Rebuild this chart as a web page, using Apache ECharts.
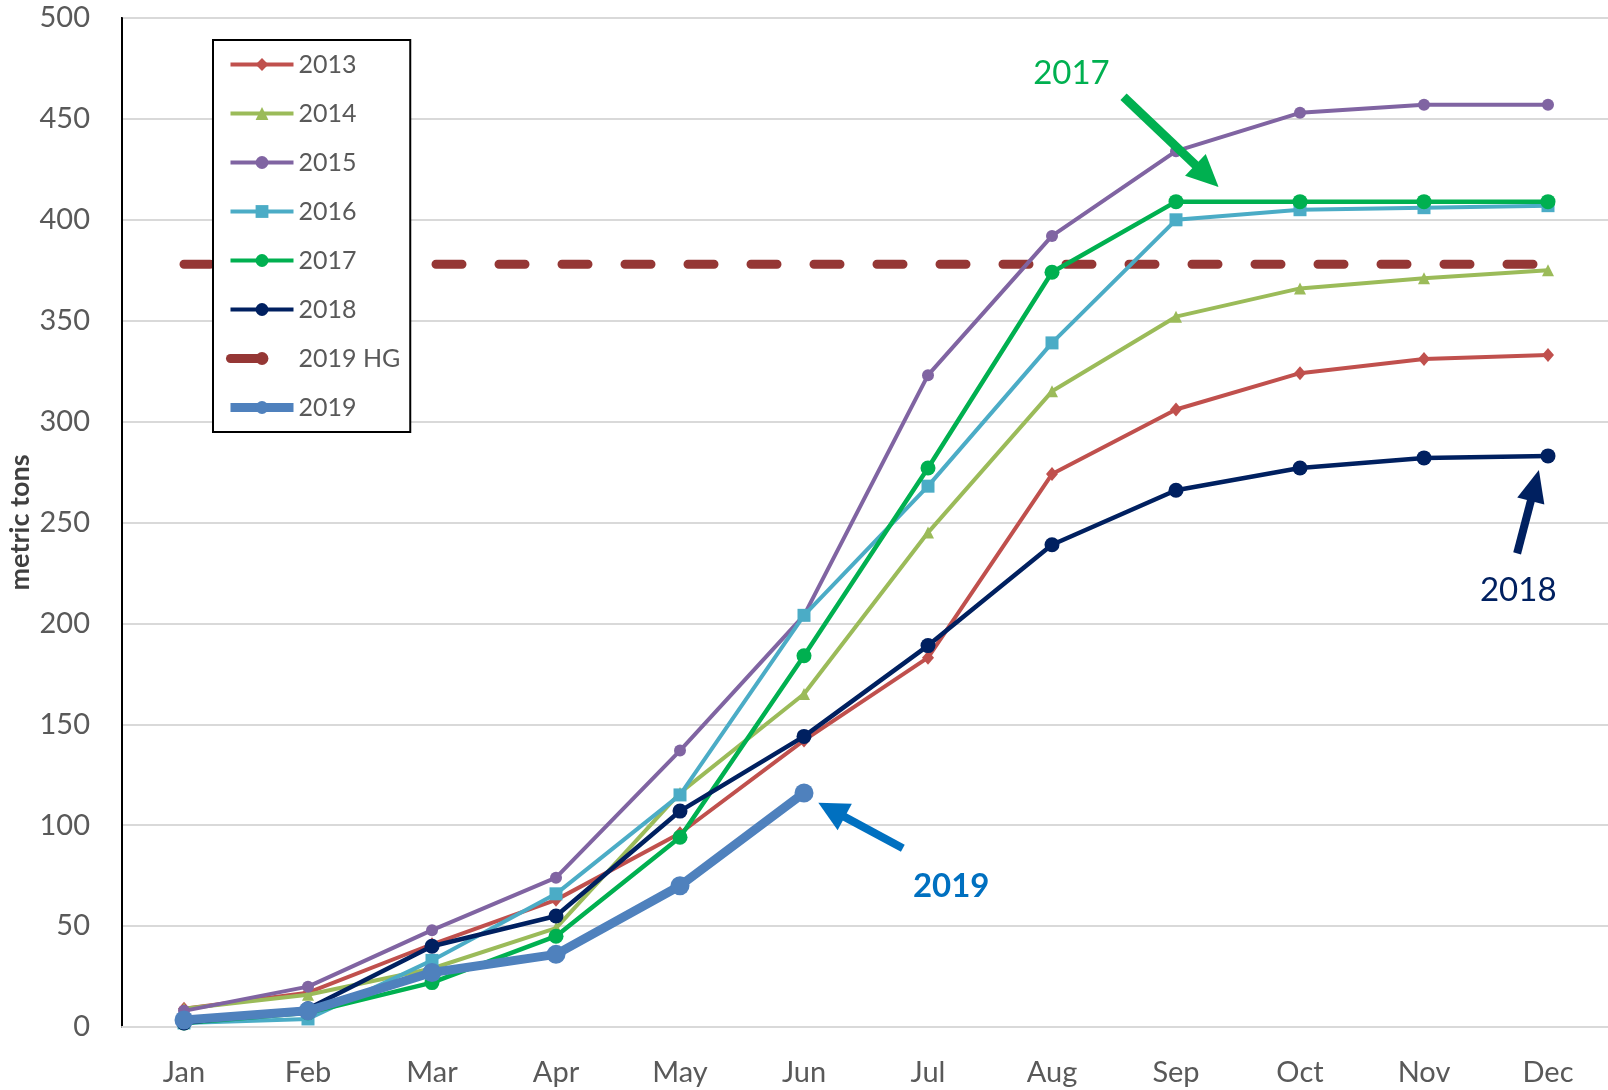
<!DOCTYPE html>
<html>
<head>
<meta charset="utf-8">
<script src="https://cdn.jsdelivr.net/npm/echarts@6/dist/echarts.min.js"></script>
<style>
html, body { margin: 0; padding: 0; background: #fff; }
#chart { width: 1608px; height: 1090px; }
</style>
</head>
<body>
<div id="chart"></div>
<script>
// ---- data ----
var months = ['Jan', 'Feb', 'Mar', 'Apr', 'May', 'Jun', 'Jul', 'Aug', 'Sep', 'Oct', 'Nov', 'Dec'];
var s2013 = [9, 17, 41, 63, 96, 142, 183, 274, 306, 324, 331, 333];
var s2014 = [9, 16, 29, 49, 116, 165, 245, 315, 352, 366, 371, 375];
var s2015 = [8, 20, 48, 74, 137, 204, 323, 392, 434, 453, 457, 457];
var s2016 = [2, 4, 33, 66, 115, 204, 268, 339, 400, 405, 406, 407];
var s2017 = [2, 7, 22, 45, 94, 184, 277, 374, 409, 409, 409, 409];
var s2018 = [2, 9, 40, 55, 107, 144, 189, 239, 266, 277, 282, 283];
var hg2019 = [378, 378, 378, 378, 378, 378, 378, 378, 378, 378, 378, 378];
var s2019 = [3.5, 8, 27, 36, 70, 116];
var yTicks = { min: 0, max: 500, interval: 50 };

// annotation anchors in data units (x = month index, y = metric tons)
var ann2017 = { text: '2017', label: [7.157, 472.5], from: [7.577, 461.0], to: [8.25, 421.7] };
var ann2019 = { text: '2019', label: [6.187, 69.7], from: [5.797, 88.6], to: [5.222, 107.6] };
var ann2018 = { text: '2018', label: [10.76, 216.5], from: [10.751, 234.7], to: [10.894, 268.3] };

var FONT = 'Lato';

function lineSeries(name, data, color, symbol, symbolSize, width, z) {
  return {
    name: name, type: 'line', data: data,
    symbol: symbol, symbolSize: symbolSize, showSymbol: symbol !== 'none',
    lineStyle: { color: color, width: width },
    itemStyle: { color: color },
    z: z, animation: false, silent: true
  };
}

function annSeries(a, color, bold, lw, head) {
  return {
    type: 'line', xAxisIndex: 1, yAxisIndex: 0, data: [], silent: true, animation: false,
    markLine: {
      silent: true, animation: false,
      symbol: ['none', 'triangle'], symbolSize: head,
      lineStyle: { color: color, width: lw, type: 'solid' },
      itemStyle: { color: color },
      label: { show: false },
      emphasis: { disabled: true },
      data: [[{ coord: a.from }, { coord: a.to }]]
    },
    markPoint: {
      silent: true, animation: false,
      symbol: 'circle', symbolSize: 1,
      itemStyle: { color: 'rgba(0,0,0,0)' },
      label: {
        show: true, position: 'inside', formatter: a.text,
        color: color, fontFamily: FONT, fontSize: 33, fontWeight: bold ? 'bold' : 'normal'
      },
      data: [{ coord: a.label }]
    },
    z: 10
  };
}

var chart = echarts.init(document.getElementById('chart'), null, { renderer: 'canvas' });
chart.setOption({
  backgroundColor: '#ffffff',
  animation: false,
  grid: {
    left: 122, right: -2, top: 18, bottom: 63, containLabel: false, outerBoundsMode: 'none',
    show: true, borderColor: '#000', borderWidth: 2, backgroundColor: 'transparent'
  },
  legend: {
    orient: 'vertical', left: 213, top: 40,
    data: [
      { name: '2013' },
      { name: '2014' },
      { name: '2015' },
      { name: '2016' },
      { name: '2017' },
      { name: '2018' },
      { name: '2019 HG', lineStyle: { width: 9, type: [27, 200], cap: 'round' } },
      { name: '2019', lineStyle: { width: 9 } }
    ],
    backgroundColor: '#fff', borderColor: '#000', borderWidth: 2,
    padding: [10, 10, 10, 13],
    itemWidth: 63, itemHeight: 16, itemGap: 20, itemTextGap: 4,
    lineStyle: { width: 4 },
    textStyle: { fontFamily: FONT, fontSize: 25, color: '#595959', lineHeight: 29 },
    selectedMode: false
  },
  xAxis: [{
    type: 'category', data: months, boundaryGap: true,
    axisLine: { show: true, lineStyle: { color: '#D9D9D9', width: 2 } },
    axisTick: { show: false },
    axisLabel: { fontFamily: FONT, fontSize: 29, color: '#595959', margin: 31 },
    splitLine: { show: false }
  }, {
    type: 'value', min: -0.5, max: 11.5, show: false
  }],
  yAxis: [{
    type: 'value', min: yTicks.min, max: yTicks.max, interval: yTicks.interval,
    name: 'metric tons', nameLocation: 'middle', nameGap: 102, nameRotate: 90, nameMoveOverlap: false,
    nameTextStyle: { fontFamily: FONT, fontSize: 27, fontWeight: 'bold', color: '#404040', verticalAlign: 'middle' },
    axisLine: { show: true, onZero: false, lineStyle: { color: '#000', width: 2 } },
    axisTick: { show: false },
    axisLabel: { fontFamily: FONT, fontSize: 29, color: '#595959', margin: 32 },
    splitLine: { show: true, lineStyle: { color: '#D9D9D9', width: 2 } }
  }],
  series: [
    lineSeries('2013', s2013, '#C0504D', 'diamond', [12, 14], 4, 2),
    lineSeries('2014', s2014, '#9BBB59', 'triangle', 12, 4, 3),
    lineSeries('2015', s2015, '#8064A2', 'circle', 12, 4, 4),
    lineSeries('2016', s2016, '#4BACC6', 'rect', 13, 4, 5),
    lineSeries('2017', s2017, '#00B050', 'circle', 15, 4.5, 6),
    lineSeries('2018', s2018, '#002060', 'circle', 15, 4.5, 7),
    {
      name: '2019 HG', type: 'line', data: hg2019, symbol: 'none', showSymbol: false,
      lineStyle: { color: '#953735', width: 9, type: [26, 37], cap: 'round' },
      itemStyle: { color: '#953735' }, z: 1, silent: true, animation: false
    },
    lineSeries('2019', s2019, '#4F81BD', 'circle', 19, 9, 8),
    annSeries(ann2017, '#00B050', false, 9, [30, 32]),
    annSeries(ann2019, '#0070C0', true, 8, [30, 30]),
    annSeries(ann2018, '#002060', false, 8, [28, 32])
  ]
});
</script>
</body>
</html>
